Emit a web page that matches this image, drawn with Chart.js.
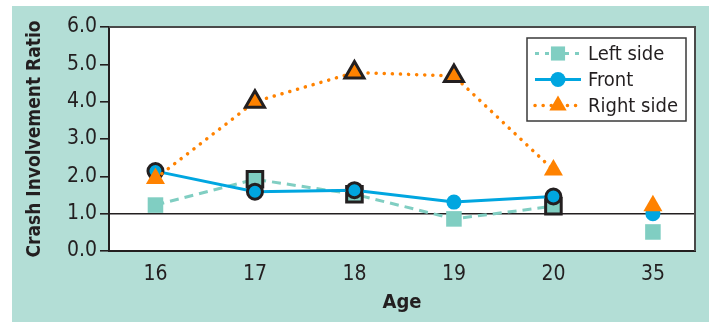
<!DOCTYPE html>
<html>
<head>
<meta charset="utf-8">
<script src="https://cdn.jsdelivr.net/npm/chart.js@4/dist/chart.umd.min.js"></script>
<style>
  html, body { margin: 0; padding: 0; background: #ffffff; }
  #wrap { width: 709px; height: 322px; position: relative; }
</style>
</head>
<body>
<div id="wrap"><canvas id="chart" width="709" height="322"></canvas></div>
<script>
// Crash involvement ratio by driver age and impact side
const ages = ['16', '17', '18', '19', '20', '35'];
const yTicks = [0, 1, 2, 3, 4, 5, 6];
const referenceRatio = 1.0;

const leftSide  = [1.23, 1.92, 1.52, 0.86, 1.20, 0.51];
const front     = [2.14, 1.59, 1.63, 1.31, 1.46, 1.00];
const rightSide = [1.94, 4.00, 4.78, 4.69, 2.17, 1.21];

// points drawn with a dark outline
const leftOutlined  = [false, true, true, false, true, false];
const frontOutlined = [true, true, true, false, true, false];
const rightOutlined = [false, true, true, true, false, false];

// the comparison age group is not joined to the younger ages
const comparisonIndex = ages.indexOf('35');

const TEAL_BG = '#b3ded6';
const TEAL = '#80cec2';
const BLUE = '#00a6e0';
const ORANGE = '#ff8200';
const OUTLINE = '#231f20';
const FONT = "'DejaVu Sans Condensed', 'Liberation Sans Narrow', sans-serif";

const toPoints = vals => vals.map((v, i) => ({ x: i, y: v }));
const outline = flags => flags.map(f => f ? 3 : 0);

function lineSegment(color) {
  return {
    borderColor: ctx => ctx.p1DataIndex === comparisonIndex ? 'rgba(0,0,0,0)' : color
  };
}

const datasets = [
  {
    label: 'Left side',
    data: toPoints(leftSide),
    borderColor: TEAL,
    backgroundColor: TEAL,
    borderWidth: 3,
    borderDash: [9, 6],
    pointStyle: 'rect',
    pointRadius: 11,
    pointHoverRadius: 11,
    pointBackgroundColor: TEAL,
    pointBorderColor: OUTLINE,
    pointBorderWidth: outline(leftOutlined),
    segment: lineSegment(TEAL),
    order: 3
  },
  {
    label: 'Front',
    data: toPoints(front),
    borderColor: BLUE,
    backgroundColor: BLUE,
    borderWidth: 3,
    pointStyle: 'circle',
    pointRadius: 7.5,
    pointHoverRadius: 7.5,
    pointBackgroundColor: BLUE,
    pointBorderColor: OUTLINE,
    pointBorderWidth: outline(frontOutlined),
    segment: lineSegment(BLUE),
    order: 2
  },
  {
    label: 'Right side',
    data: toPoints(rightSide),
    borderColor: ORANGE,
    backgroundColor: ORANGE,
    borderWidth: 3.5,
    borderDash: [0.1, 8],
    borderCapStyle: 'round',
    pointStyle: 'triangle',
    pointRadius: 11,
    pointHoverRadius: 11,
    pointBackgroundColor: ORANGE,
    pointBorderColor: OUTLINE,
    pointBorderWidth: outline(rightOutlined),
    segment: lineSegment(ORANGE),
    order: 1
  }
];

// panel background, white plot area and the plot frame
const panelPlugin = {
  id: 'panel',
  beforeDraw(chart) {
    const { ctx, chartArea: a } = chart;
    ctx.save();
    ctx.fillStyle = '#ffffff';
    ctx.fillRect(0, 0, chart.width, chart.height);
    ctx.fillStyle = TEAL_BG;
    ctx.fillRect(12, 6, chart.width - 12, chart.height - 6);
    ctx.fillStyle = '#ffffff';
    ctx.fillRect(a.left, a.top, a.right - a.left, a.bottom - a.top);
    ctx.restore();
  },
  afterDraw(chart) {
    const { ctx, chartArea: a } = chart;
    ctx.save();
    ctx.strokeStyle = '#4a4a4a';
    ctx.lineWidth = 2;
    ctx.beginPath();
    ctx.moveTo(a.left, a.top);
    ctx.lineTo(a.right, a.top);
    ctx.lineTo(a.right, a.bottom);
    ctx.stroke();
    ctx.restore();
  }
};

// legend box with line samples and markers
const legendPlugin = {
  id: 'sampleLegend',
  afterDatasetsDraw(chart) {
    const { ctx, chartArea: a } = chart;
    const boxW = 159, boxH = 83;
    const x0 = a.right - 9 - boxW, y0 = a.top + 11;
    ctx.save();
    ctx.fillStyle = '#ffffff';
    ctx.fillRect(x0, y0, boxW, boxH);
    ctx.strokeStyle = '#3a3a3a';
    ctx.lineWidth = 1.5;
    ctx.strokeRect(x0, y0, boxW, boxH);
    chart.data.datasets.forEach((ds, i) => {
      const cy = y0 + 15.5 + i * 26;
      const sx0 = x0 + 8, sx1 = x0 + 54, mx = (sx0 + sx1) / 2;
      ctx.save();
      ctx.strokeStyle = ds.borderColor;
      ctx.lineWidth = ds.borderWidth;
      ctx.lineCap = ds.borderCapStyle || 'butt';
      ctx.setLineDash(ds.borderDash ? (ds.pointStyle === 'rect' ? [4, 6] : ds.borderDash) : []);
      ctx.beginPath();
      ctx.moveTo(sx0, cy);
      ctx.lineTo(sx1, cy);
      ctx.stroke();
      ctx.restore();
      ctx.fillStyle = ds.pointBackgroundColor;
      ctx.strokeStyle = ds.pointBackgroundColor;
      Chart.helpers.drawPoint(ctx, {
        pointStyle: ds.pointStyle,
        radius: ds.pointStyle === 'circle' ? 7.5 : 10,
        borderWidth: 0,
        rotation: 0
      }, mx, cy);
      ctx.fillStyle = '#231f20';
      ctx.font = '20px ' + FONT;
      ctx.textBaseline = 'middle';
      ctx.textAlign = 'left';
      ctx.fillText(ds.label, x0 + 61, cy + 1);
    });
    ctx.restore();
  }
};

new Chart(document.getElementById('chart'), {
  type: 'line',
  data: { datasets },
  options: {
    responsive: false,
    animation: false,
    events: [],
    layout: { padding: { left: 0, top: 27, right: 14, bottom: 0 } },
    plugins: {
      legend: { display: false },
      tooltip: { enabled: false }
    },
    scales: {
      x: {
        type: 'linear',
        min: -0.467,
        max: 5.423,
        afterBuildTicks: scale => { scale.ticks = ages.map((_, i) => ({ value: i })); },
        afterFit: scale => { scale.height = 71; },
        grid: { display: false, drawTicks: false },
        border: { display: true, color: '#231f20', width: 2 },
        ticks: {
          callback: v => ages[v],
          color: '#231f20',
          font: { family: FONT, size: 21 },
          padding: 11,
          maxRotation: 0,
          autoSkip: false
        },
        title: {
          display: true,
          text: 'Age',
          color: '#231f20',
          font: { family: FONT, size: 20, weight: 'bold' },
          padding: { top: 0, bottom: 7 }
        }
      },
      y: {
        min: 0,
        max: 6,
        afterBuildTicks: scale => { scale.ticks = yTicks.map(v => ({ value: v })); },
        afterFit: scale => { scale.width = 109; },
        grid: {
          drawOnChartArea: true,
          color: ctx => ctx.tick && ctx.tick.value === referenceRatio ? '#231f20' : 'rgba(0,0,0,0)',
          lineWidth: 1.6,
          tickColor: '#231f20',
          tickLength: 9,
          tickWidth: 1.6
        },
        border: { display: true, color: '#231f20', width: 2 },
        ticks: {
          callback: v => Number(v).toFixed(1),
          color: '#231f20',
          font: { family: FONT, size: 21 },
          padding: 3
        },
        title: {
          display: true,
          text: 'Crash Involvement Ratio',
          color: '#231f20',
          font: { family: FONT, size: 19, weight: 'bold' },
          padding: { top: 24, bottom: 0 }
        }
      }
    }
  },
  plugins: [panelPlugin, legendPlugin]
});
</script>
</body>
</html>
